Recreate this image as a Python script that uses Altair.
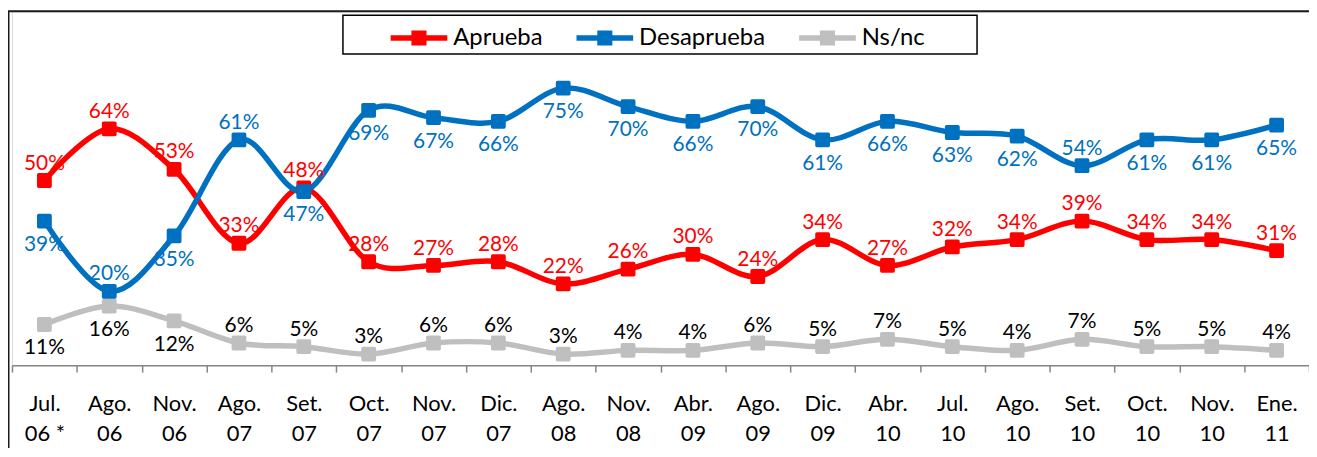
import altair as alt
import pandas as pd

categories = ["Jul. 06 *", "Ago. 06", "Nov. 06", "Ago. 07", "Set. 07", "Oct. 07", "Nov. 07",
              "Dic. 07", "Ago. 08", "Nov. 08", "Abr. 09", "Ago. 09", "Dic. 09", "Abr. 10",
              "Jul. 10", "Ago. 10", "Set. 10", "Oct. 10", "Nov. 10", "Ene. 11"]
aprueba = [50, 64, 53, 33, 48, 28, 27, 28, 22, 26, 30, 24, 34, 27, 32, 34, 39, 34, 34, 31]
desaprueba = [39, 20, 35, 61, 47, 69, 67, 66, 75, 70, 66, 70, 61, 66, 63, 62, 54, 61, 61, 65]
nsnc = [11, 16, 12, 6, 5, 3, 6, 6, 3, 4, 4, 6, 5, 7, 5, 4, 7, 5, 5, 4]

series = ["Aprueba", "Desaprueba", "Ns/nc"]
line_colors = ["#FF0000", "#0070C0", "#BFBFBF"]
label_colors = ["#FF0000", "#0070C0", "#000000"]

# label placement (style): indices whose value label sits below the marker
below = {
    "Aprueba": [],
    "Desaprueba": [i for i in range(len(categories)) if i not in (1, 3, 16)],
    "Ns/nc": [0, 1, 2],
}

rows = []
for name, vals in [("Ns/nc", nsnc), ("Aprueba", aprueba), ("Desaprueba", desaprueba)]:
    for i, (c, v) in enumerate(zip(categories, vals)):
        rows.append({"cat": c, "serie": name, "val": v,
                     "pos": "below" if i in below[name] else "above"})
df = pd.DataFrame(rows)

FONT = "Lato"

x_enc = alt.X(
    "cat:N", sort=categories, bandPosition=0.5,
    scale=alt.Scale(type="band", paddingInner=0, paddingOuter=0),
    axis=alt.Axis(
        title=None, labelAngle=0, tickBand="extent", grid=False,
        domainColor="#868686", domainWidth=1.5, tickColor="#868686", tickWidth=1.5,
        tickSize=7, labelFont=FONT, labelFontSize=22, labelColor="black",
        labelPadding=22, labelBaseline="top", labelLineHeight=29.4,
        labelExpr="[substring(datum.label, 0, indexof(datum.label, ' ')), "
                  "substring(datum.label, indexof(datum.label, ' ') + 1)]",
    ),
)
y_enc = alt.Y("val:Q", scale=alt.Scale(domain=[0, 95.8], nice=False, zero=True), axis=None)

color_enc = alt.Color(
    "serie:N",
    scale=alt.Scale(domain=series, range=line_colors),
    legend=alt.Legend(
        title=None, orient="none", legendX=378, legendY=-5, direction="horizontal",
        symbolType="M-1,0H1M-0.17,-0.17H0.17V0.17H-0.17Z", symbolSize=3249,
        symbolStrokeWidth=5.5, labelFont=FONT, labelFontSize=24, labelColor="black",
        labelOffset=3, columnPadding=23, padding=0,
    ),
)
stroke_enc = alt.Stroke("serie:N", scale=alt.Scale(domain=series, range=line_colors), legend=None)

base = alt.Chart(df)

lines = base.mark_line(interpolate="cardinal", strokeWidth=5.5).encode(x=x_enc, y=y_enc, color=color_enc)
points = base.mark_point(shape="square", filled=True, size=130, opacity=1,
                         strokeWidth=3.5, strokeJoin="round").encode(
    x=x_enc, y=y_enc, color=color_enc, stroke=stroke_enc)

fill_enc = alt.Fill("serie:N", scale=alt.Scale(domain=series, range=label_colors), legend=None)

def labels(pos, dy):
    return base.transform_filter(alt.datum.pos == pos).transform_calculate(
        lbl="datum.val + '%'"
    ).mark_text(font=FONT, fontSize=21, baseline="middle", dy=dy).encode(
        x=x_enc, y=y_enc, text="lbl:N", fill=fill_enc)

one = pd.DataFrame({"a": [0]})
border = alt.Chart(one).mark_rect(fill="transparent", stroke="#1a1a1a", strokeWidth=2).encode(
    x=alt.value(-3.5), x2=alt.value(1400), y=alt.value(0), y2=alt.value(600))
legend_box = alt.Chart(one).mark_rect(fill="white", stroke="black", strokeWidth=1.5).encode(
    x=alt.value(333), x2=alt.value(971), y=alt.value(4), y2=alt.value(43))

chart = alt.layer(
    border, legend_box, lines, points, labels("above", -17), labels("below", 24)
).properties(
    width=1305, height=356,
    padding={"left": 4, "top": 2, "right": 0, "bottom": 82},
    autosize=alt.AutoSizeParams(type="none"),
).configure_view(stroke=None).configure(background="white")

chart.save("out.html", embed_options={"renderer": "svg", "actions": False})
